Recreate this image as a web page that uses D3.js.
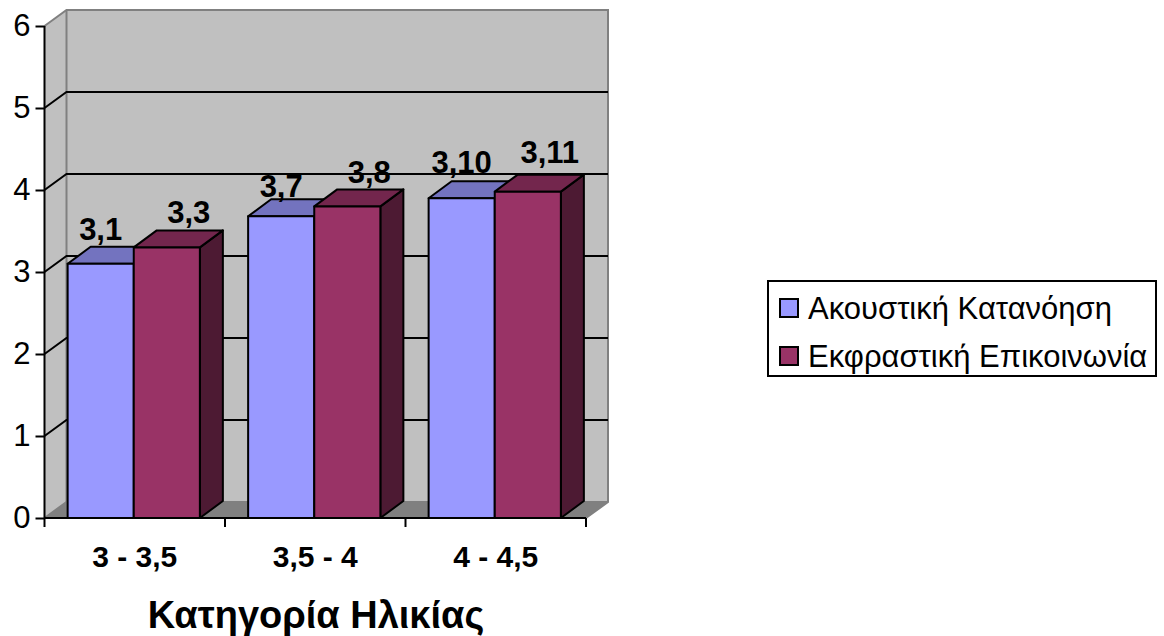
<!DOCTYPE html>
<html>
<head>
<meta charset="utf-8">
<script src="https://cdnjs.cloudflare.com/ajax/libs/d3/7.8.5/d3.min.js"></script>
<style>
	html, body {margin:0; padding:0; background:#fff; overflow:hidden;}
	svg {display:block;}
	text {font-family:"Liberation Sans", Arial, sans-serif; fill:#000;}
</style>
</head>
<body>
<div id="chart"></div>
<script>
//////////////////////// Data ////////////////////////////
var categories = ["3 - 3,5", "3,5 - 4", "4 - 4,5"];
var seriesNames = ["Ακουστική Κατανόηση", "Εκφραστική Επικοινωνία"];
//bar heights
var acoustic = [3.1, 3.68, 3.9];
var expressive = [3.3, 3.8, 3.98];
//the printed labels do not equal the heights, they are kept as printed
var acousticLabels = ["3,1", "3,7", "3,10"];
var expressiveLabels = ["3,3", "3,8", "3,11"];
var yTicks = [0, 1, 2, 3, 4, 5, 6];
var axisTitle = "Κατηγορία Ηλικίας";

//////////////////////// Set-up ////////////////////////////
var width = 1164,
	height = 636,
	depthX = 22,	//3D offset of the walls
	depthY = -16,
	barDepthX = 23,	//3D offset of the bars
	barDepthY = -17,
	barShift = -1;

var colors = [
	{front:"#9999ff", top:"#7373bf", side:"#4d4d80"},
	{front:"#993366", top:"#73264d", side:"#4d1a33"}
];

//how far each label sits above its bar top, they are not all the same in the original
var labelLift = {"3,1":24, "3,3":24, "3,7":19, "3,8":23, "3,10":25, "3,11":29};

var svg = d3.select("#chart").append("svg")
	.attr("width", width)
	.attr("height", height);

var y = d3.scaleLinear().domain([0, 6]).range([518, 26]);
var x = d3.scaleBand().domain(categories).range([44.5, 586]);
var xSeries = d3.scaleBand().domain([0, 1]).range([0, x.bandwidth()]).paddingOuter(0.365).paddingInner(0);

function poly(points) {
	return "M" + points.map(function(p) { return p.join(","); }).join("L") + "Z";
}

//////////////////////// Walls ////////////////////////////
var x0 = x.range()[0], x1 = x.range()[1], yBase = y(0), yTop = y(6);

svg.append("path")
	.attr("d", poly([[x0, yBase], [x0 + depthX, yBase + depthY], [x0 + depthX, yTop + depthY], [x0, yTop]]))
	.attr("fill", "#c0c0c0");
svg.append("rect")
	.attr("x", x0 + depthX).attr("y", yTop + depthY)
	.attr("width", x1 - x0).attr("height", yBase - yTop)
	.attr("fill", "#c0c0c0");
svg.append("path")
	.attr("d", poly([[x0, yBase], [x0 + depthX, yBase + depthY], [x1 + depthX, yBase + depthY], [x1, yBase]]))
	.attr("fill", "#808080");
//wall outline
svg.append("path")
	.attr("d", "M" + x0 + "," + yTop + "L" + (x0 + depthX) + "," + (yTop + depthY) + "H" + (x1 + depthX) + "V" + (yBase + depthY) + "L" + x1 + "," + yBase)
	.attr("fill", "none").attr("stroke", "#808080").attr("stroke-width", 2);
svg.append("line")
	.attr("x1", x0 + depthX).attr("x2", x0 + depthX)
	.attr("y1", yTop + depthY).attr("y2", yBase + depthY)
	.attr("stroke", "#808080").attr("stroke-width", 2);
svg.append("path")
	.attr("d", "M" + x0 + "," + yBase + "L" + (x0 + depthX) + "," + (yBase + depthY) + "H" + (x1 + depthX))
	.attr("fill", "none").attr("stroke", "#808080").attr("stroke-width", 2);

//gridlines, round the left wall and along the back wall
svg.selectAll(".grid")
	.data(yTicks.filter(function(d) { return d > 0 && d < 6; }))
	.enter().append("path")
	.attr("class", "grid")
	.attr("d", function(d) {
		return "M" + x0 + "," + y(d) + "L" + (x0 + depthX) + "," + (y(d) + depthY) + "H" + (x1 + depthX);
	})
	.attr("fill", "none").attr("stroke", "#000").attr("stroke-width", 2);

//////////////////////// Bars ////////////////////////////
var series = [
	{values:acoustic, labels:acousticLabels},
	{values:expressive, labels:expressiveLabels}
];

categories.forEach(function(cat, c) {
	series.forEach(function(s, i) {
		var left = x(cat) + xSeries(i) + barShift,
			right = left + xSeries.bandwidth(),
			top = y(s.values[c]),
			g = svg.append("g").attr("stroke", "#000").attr("stroke-width", 2).attr("stroke-linejoin", "round");

		g.append("path")
			.attr("d", poly([[right, top], [right + barDepthX, top + barDepthY], [right + barDepthX, yBase + barDepthY], [right, yBase]]))
			.attr("fill", colors[i].side);
		g.append("path")
			.attr("d", poly([[left, top], [left + barDepthX, top + barDepthY], [right + barDepthX, top + barDepthY], [right, top]]))
			.attr("fill", colors[i].top);
		g.append("rect")
			.attr("x", left).attr("y", top)
			.attr("width", right - left).attr("height", yBase - top)
			.attr("fill", colors[i].front);
	});
});

//value labels sit above the bar tops, the second series is pushed over by the bar depth
categories.forEach(function(cat, c) {
	series.forEach(function(s, i) {
		svg.append("text")
			.attr("x", x(cat) + xSeries(i) + barShift + xSeries.bandwidth() / 2 + (i ? barDepthX - 1 : 0))
			.attr("y", y(s.values[c]) - labelLift[s.labels[c]])
			.attr("text-anchor", "middle")
			.style("font-size", "31px")
			.style("font-weight", "bold")
			.text(s.labels[c]);
	});
});

//////////////////////// Axes ////////////////////////////
var yAxis = d3.axisLeft(y).tickValues(yTicks).tickSize(9).tickPadding(5).tickFormat(d3.format("d"));
var gy = svg.append("g").attr("transform", "translate(" + x0 + ",0)").call(yAxis);
gy.selectAll("path, line").attr("stroke", "#000").attr("stroke-width", 2);
gy.select(".domain").attr("d", "M0," + yTop + "V" + yBase);
gy.selectAll("text").style("font-size", "31px").style("font-family", "'Liberation Sans', Arial, sans-serif");

var xAxis = d3.axisBottom(x).tickSize(0).tickPadding(0);
var gx = svg.append("g").attr("transform", "translate(0," + yBase + ")").call(xAxis);
gx.select(".domain").attr("d", "M" + x0 + ",0H" + x1).attr("stroke", "#000").attr("stroke-width", 2);
gx.selectAll("text")
	.attr("y", 49).attr("dy", 0)
	.style("font-size", "30px").style("font-weight", "bold")
	.style("font-family", "'Liberation Sans', Arial, sans-serif");

//category boundary ticks
svg.selectAll(".xtick")
	.data(categories.map(function(d) { return x(d); }).concat([x1]))
	.enter().append("line")
	.attr("class", "xtick")
	.attr("x1", function(d) { return d; }).attr("x2", function(d) { return d; })
	.attr("y1", yBase).attr("y2", yBase + 9)
	.attr("stroke", "#000").attr("stroke-width", 2);

svg.append("text")
	.attr("x", 316).attr("y", 628)
	.attr("text-anchor", "middle")
	.style("font-size", "38px").style("font-weight", "bold")
	.text(axisTitle);

//////////////////////// Legend ////////////////////////////
var legend = svg.append("g").attr("transform", "translate(768,281)");
legend.append("rect")
	.attr("width", 388).attr("height", 95)
	.attr("fill", "#fff").attr("stroke", "#000").attr("stroke-width", 2);

var items = legend.selectAll(".item").data(seriesNames).enter().append("g")
	.attr("transform", function(d, i) { return "translate(0," + (i * 48) + ")"; });
items.append("rect")
	.attr("x", 12).attr("y", 18).attr("width", 18).attr("height", 18)
	.attr("fill", function(d, i) { return colors[i].front; })
	.attr("stroke", "#000").attr("stroke-width", 2);
items.append("text")
	.attr("x", 40).attr("y", 38)
	.style("font-size", "31px")
	.text(function(d) { return d; });
</script>
</body>
</html>
